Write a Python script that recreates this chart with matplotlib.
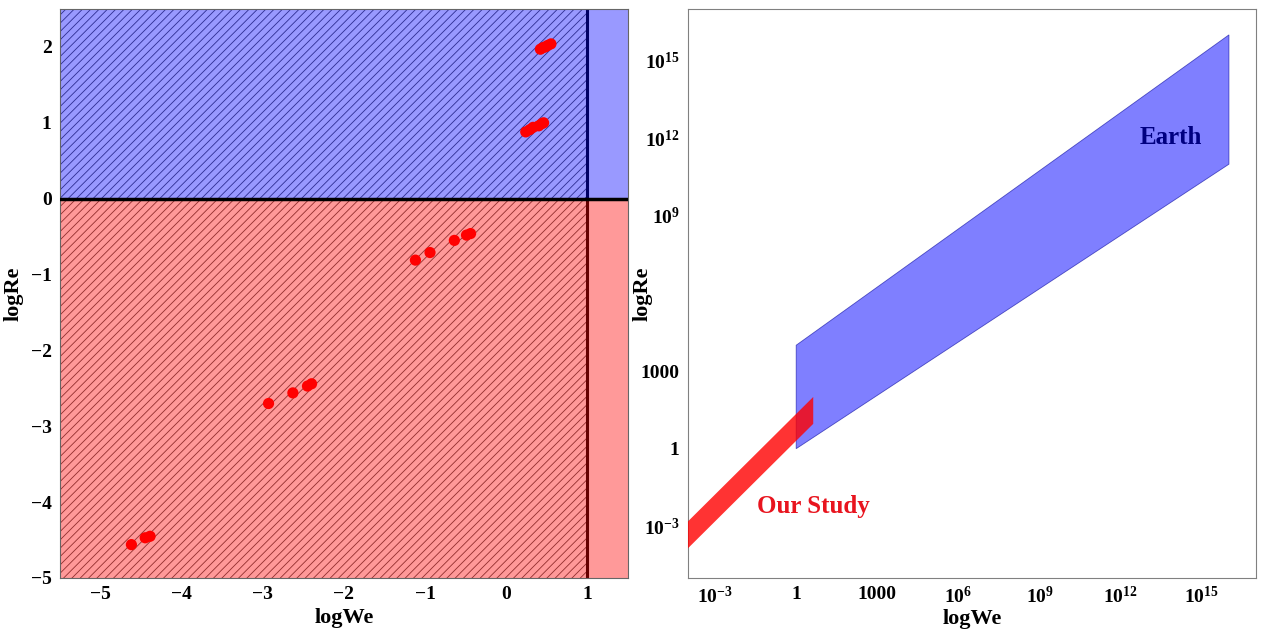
import matplotlib
matplotlib.use("Agg")
import matplotlib.pyplot as plt
from matplotlib.patches import Rectangle, Polygon
from matplotlib.ticker import FixedLocator, FixedFormatter

plt.rcParams['font.family'] = ['Liberation Serif', 'DejaVu Serif']
plt.rcParams['font.weight'] = 'bold'
plt.rcParams['mathtext.fontset'] = 'custom'
plt.rcParams['mathtext.rm'] = 'Liberation Serif:bold'
plt.rcParams['mathtext.bf'] = 'Liberation Serif:bold'
plt.rcParams['mathtext.it'] = 'Liberation Serif:bold'
plt.rcParams['hatch.linewidth'] = 0.6
plt.rcParams['axes.unicode_minus'] = True

# ---- left panel: measured points (log10 We, log10 Re) ----
log_we = [0.42, 0.45, 0.48, 0.51, 0.55,
          0.24, 0.29, 0.33, 0.40, 0.44, 0.46,
          -1.12, -0.94, -0.64, -0.49, -0.44,
          -2.93, -2.63, -2.45, -2.40,
          -4.62, -4.45, -4.39]
log_re = [1.97, 1.99, 2.00, 2.02, 2.04,
          0.88, 0.91, 0.94, 0.96, 0.99, 1.00,
          -0.81, -0.71, -0.55, -0.48, -0.46,
          -2.70, -2.56, -2.47, -2.44,
          -4.56, -4.47, -4.45]
left_xlim = (-5.5, 1.5)
left_ylim = (-5.0, 2.5)
we_boundary = 1.0
re_boundary = 0.0
left_xticks = [-5, -4, -3, -2, -1, 0, 1]
left_yticks = [-5, -4, -3, -2, -1, 0, 1, 2]

# ---- right panel: regime bands (We, Re) ----
earth_we = [1.0, 1e16, 1e16, 1.0]
earth_re = [1.0, 1e11, 1e16, 1e4]
study_we = [1e-4, 10 ** 0.63, 10 ** 0.63, 1e-4]
study_re = [10 ** -3.85, 10 ** 0.96, 10 ** 2.0, 10 ** -2.81]
right_lim = (1e-4, 1e17)
right_ylim = (1e-5, 1e17)
right_xticks = [1e-3, 1, 1e3, 1e6, 1e9, 1e12, 1e15]
right_xlabels = [r'$10^{-3}$', '1', '1000', r'$10^{6}$', r'$10^{9}$',
                 r'$10^{12}$', r'$10^{15}$']
right_yticks = [1e-3, 1, 1e3, 1e9, 1e12, 1e15]
right_ylabels = [r'$10^{-3}$', '1', '1000', r'$10^{9}$', r'$10^{12}$',
                 r'$10^{15}$']

W, H = 1263, 634
fig = plt.figure(figsize=(W / 100, H / 100), dpi=100)
axL = fig.add_axes([60 / W, 56 / H, 568 / W, 569 / H])
axR = fig.add_axes([688 / W, 56 / H, 568 / W, 569 / H])

tick_fs = 14
label_fs = 16

# left panel
axL.set_xlim(*left_xlim)
axL.set_ylim(*left_ylim)
x0, x1 = left_xlim
y0, y1 = left_ylim
# hatch lines for the region below the We boundary
for (yb, yt) in [(re_boundary, y1), (y0, re_boundary)]:
    axL.add_patch(Rectangle((x0, yb), we_boundary - x0, yt - yb,
                            facecolor='none', edgecolor=(0, 0, 0, 0.7),
                            hatch='////', linewidth=0, zorder=1))
axL.axvline(we_boundary, color='black', linewidth=2.2, zorder=1.5)
axL.add_patch(Rectangle((x0, re_boundary), x1 - x0, y1 - re_boundary,
                        facecolor=(0, 0, 1, 0.4), edgecolor='none', zorder=2))
axL.add_patch(Rectangle((x0, y0), x1 - x0, re_boundary - y0,
                        facecolor=(1, 0, 0, 0.4), edgecolor='none', zorder=2))
axL.axhline(re_boundary, color='black', linewidth=2.5, zorder=3)
axL.scatter(log_we, log_re, s=65, color='red', edgecolors='none', zorder=4)
axL.set_xticks(left_xticks)
axL.set_yticks(left_yticks)
axL.tick_params(length=0, labelsize=tick_fs, pad=6)
axL.set_xlabel('logWe', fontsize=label_fs, fontweight='bold', labelpad=3)
axL.set_ylabel('logRe', fontsize=label_fs, fontweight='bold')
axL.yaxis.set_label_coords(-0.064, 0.5)
for sp in axL.spines.values():
    sp.set_color('#666666')
    sp.set_linewidth(0.8)

# right panel
axR.set_xscale('log')
axR.set_yscale('log')
axR.set_xlim(*right_lim)
axR.set_ylim(*right_ylim)
axR.add_patch(Polygon(list(zip(earth_we, earth_re)), closed=True,
                      facecolor=(0, 0, 1, 0.5), edgecolor=(0, 0, 0.6, 0.6),
                      linewidth=0.6, zorder=2))
axR.add_patch(Polygon(list(zip(study_we, study_re)), closed=True,
                      facecolor=(1, 0, 0, 0.8), edgecolor='none', zorder=3))
axR.text(10 ** 13.85, 10 ** 12.04, 'Earth', color='#000080', fontsize=18,
         fontweight='bold', ha='center', va='center', zorder=5)
axR.text(10 ** 0.63, 10 ** -2.25, 'Our Study', color='#e8141e', fontsize=18,
         fontweight='bold', ha='center', va='center', zorder=5)
axR.xaxis.set_major_locator(FixedLocator(right_xticks))
axR.xaxis.set_major_formatter(FixedFormatter(right_xlabels))
axR.yaxis.set_major_locator(FixedLocator(right_yticks))
axR.yaxis.set_major_formatter(FixedFormatter(right_ylabels))
axR.xaxis.set_minor_locator(FixedLocator([]))
axR.yaxis.set_minor_locator(FixedLocator([]))
axR.tick_params(length=0, labelsize=tick_fs, pad=6)
axR.set_xlabel('logWe', fontsize=label_fs, fontweight='bold', labelpad=1)
axR.set_ylabel('logRe', fontsize=label_fs, fontweight='bold')
axR.yaxis.set_label_coords(-0.063, 0.5)
for sp in axR.spines.values():
    sp.set_color('#808080')
    sp.set_linewidth(0.8)

fig.savefig('out.png', dpi=100)
